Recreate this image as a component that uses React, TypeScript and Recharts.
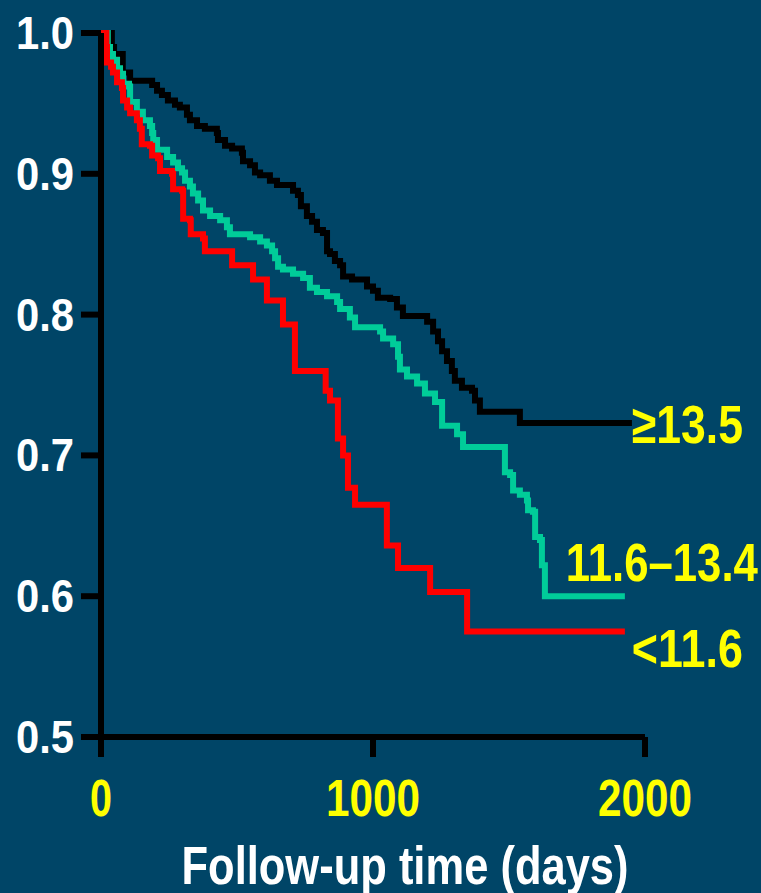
import React from 'react';
import { LineChart, Line, XAxis, YAxis, Label } from 'recharts';

const xTicks = [0, 1000, 2000];
const yTicks = [0.5, 0.6, 0.7, 0.8, 0.9, 1.0];

// >=13.5 group
const highDays = [0, 40, 48, 80, 107, 188, 206, 224, 246, 272, 290, 316, 327, 353, 382, 426, 430, 456, 482, 518, 522, 548, 566, 585, 621, 647, 706, 724, 735, 757, 776, 794, 816, 831, 842, 860, 879, 890, 923, 978, 1000, 1018, 1063, 1088, 1110, 1199, 1221, 1239, 1254, 1272, 1290, 1301, 1327, 1364, 1375, 1393, 1540, 1952];
const highSurv = [1.0, 0.99, 0.985, 0.972, 0.966, 0.963, 0.959, 0.956, 0.952, 0.949, 0.947, 0.942, 0.938, 0.934, 0.932, 0.929, 0.924, 0.92, 0.918, 0.915, 0.909, 0.906, 0.901, 0.899, 0.895, 0.892, 0.888, 0.885, 0.877, 0.87, 0.866, 0.86, 0.858, 0.845, 0.843, 0.838, 0.835, 0.827, 0.825, 0.82, 0.817, 0.812, 0.811, 0.805, 0.799, 0.795, 0.788, 0.781, 0.774, 0.767, 0.76, 0.753, 0.748, 0.746, 0.739, 0.731, 0.723, 0.723];

// 11.6-13.4 group
const midDays = [0, 25, 33, 44, 59, 70, 81, 103, 107, 132, 154, 180, 188, 192, 206, 243, 265, 283, 298, 309, 327, 338, 357, 375, 401, 438, 463, 474, 548, 585, 610, 629, 640, 651, 669, 706, 743, 768, 794, 831, 868, 879, 915, 934, 1026, 1037, 1074, 1092, 1099, 1125, 1162, 1191, 1228, 1254, 1309, 1331, 1485, 1504, 1515, 1540, 1566, 1570, 1588, 1596, 1614, 1621, 1632, 1926];
const midSurv = [1.0, 0.99, 0.985, 0.981, 0.975, 0.971, 0.964, 0.962, 0.951, 0.944, 0.938, 0.934, 0.929, 0.924, 0.917, 0.912, 0.908, 0.904, 0.901, 0.895, 0.891, 0.886, 0.881, 0.874, 0.87, 0.867, 0.862, 0.857, 0.855, 0.852, 0.849, 0.845, 0.84, 0.834, 0.832, 0.829, 0.826, 0.819, 0.816, 0.813, 0.809, 0.804, 0.798, 0.791, 0.788, 0.783, 0.779, 0.77, 0.761, 0.756, 0.751, 0.744, 0.738, 0.721, 0.715, 0.706, 0.688, 0.686, 0.675, 0.672, 0.668, 0.661, 0.66, 0.642, 0.64, 0.622, 0.6, 0.6];

// <11.6 group
const lowDays = [0, 20, 22, 37, 44, 59, 77, 81, 96, 107, 132, 143, 150, 180, 188, 210, 217, 261, 265, 298, 302, 327, 330, 375, 382, 482, 559, 610, 669, 713, 826, 842, 871, 890, 908, 934, 1051, 1092, 1210, 1346, 1926];
const lowSurv = [1.0, 0.99, 0.979, 0.976, 0.972, 0.965, 0.961, 0.952, 0.947, 0.943, 0.938, 0.932, 0.921, 0.92, 0.913, 0.911, 0.902, 0.9, 0.889, 0.888, 0.868, 0.867, 0.857, 0.854, 0.845, 0.835, 0.825, 0.81, 0.793, 0.76, 0.746, 0.739, 0.712, 0.7, 0.677, 0.665, 0.636, 0.62, 0.603, 0.575, 0.575];

const toRows = (days: number[], surv: number[]) => days.map((t, i) => ({ t, s: surv[i] }));

const highData = toRows(highDays, highSurv);
const midData = toRows(midDays, midSurv);
const lowData = toRows(lowDays, lowSurv);

const font = '"Liberation Sans", Arial, sans-serif';
const bg = '#004567';

// the source uses a condensed bold face, so squeeze the text to its width
const XTick = (props: any) => {
  const { x, y, payload } = props;
  const label = String(payload.value);
  return (
    <text
      x={x}
      y={y + 37}
      textAnchor="middle"
      fill="#ffff00"
      fontSize={52}
      fontWeight="bold"
      fontFamily={font}
      textLength={24 * label.length - 2}
      lengthAdjust="spacingAndGlyphs"
    >
      {label}
    </text>
  );
};

const YTick = (props: any) => {
  const { x, y, payload } = props;
  return (
    <text
      x={x}
      y={y + 16}
      textAnchor="end"
      fill="#ffffff"
      fontSize={46}
      fontWeight="bold"
      fontFamily={font}
      textLength={58}
      lengthAdjust="spacingAndGlyphs"
    >
      {Number(payload.value).toFixed(1)}
    </text>
  );
};

// text at the end of each curve
const endLabel = (text: string, count: number, dx: number, dy: number, w: number) => (props: any) => {
  const { x, y, index } = props;
  if (index !== count - 1) return null;
  return (
    <text
      x={x + dx}
      y={y + dy}
      fill="#ffff00"
      fontSize={54}
      fontWeight="bold"
      fontFamily={font}
      textLength={w}
      lengthAdjust="spacingAndGlyphs"
    >
      {text}
    </text>
  );
};

export default function App() {
  return (
    <div style={{ position: 'absolute', left: 0, top: 0, width: 761, height: 893, background: bg, overflow: 'hidden' }}>
      <LineChart width={761} height={893} margin={{ top: 33, right: 116, left: 41, bottom: 0 }}>
        <XAxis
          type="number"
          dataKey="t"
          domain={[0, 2000]}
          ticks={xTicks}
          height={156}
          axisLine={{ stroke: '#000', strokeWidth: 6 }}
          tickLine={{ stroke: '#000', strokeWidth: 6 }}
          tickSize={20}
          tickMargin={22}
          tick={<XTick />}
        >
          <Label
            content={({ viewBox }: any) => (
              <text
                x={viewBox.x + viewBox.width / 2 + 32}
                y={884}
                textAnchor="middle"
                fill="#ffffff"
                fontSize={53}
                fontWeight="bold"
                fontFamily={font}
                textLength={447}
                lengthAdjust="spacingAndGlyphs"
              >
                Follow-up time (days)
              </text>
            )}
          />
        </XAxis>
        <YAxis
          type="number"
          domain={[0.5, 1.0]}
          ticks={yTicks}
          width={60}
          axisLine={{ stroke: '#000', strokeWidth: 6 }}
          tickLine={{ stroke: '#000', strokeWidth: 6 }}
          tickSize={20}
          tickMargin={7}
          tick={<YTick />}
        />
        <Line
          data={highData}
          dataKey="s"
          type="stepAfter"
          stroke="#000000"
          strokeWidth={6}
          dot={false}
          isAnimationActive={false}
          label={endLabel('≥13.5', highData.length, 0, 20, 111)}
        />
        <Line
          data={midData}
          dataKey="s"
          type="stepAfter"
          stroke="#00cc99"
          strokeWidth={6}
          dot={false}
          isAnimationActive={false}
          label={endLabel('11.6–13.4', midData.length, -59, -15, 192)}
        />
        <Line
          data={lowData}
          dataKey="s"
          type="stepAfter"
          stroke="#ff0000"
          strokeWidth={6}
          dot={false}
          isAnimationActive={false}
          label={endLabel('<11.6', lowData.length, 7, 36, 111)}
        />
      </LineChart>
    </div>
  );
}
